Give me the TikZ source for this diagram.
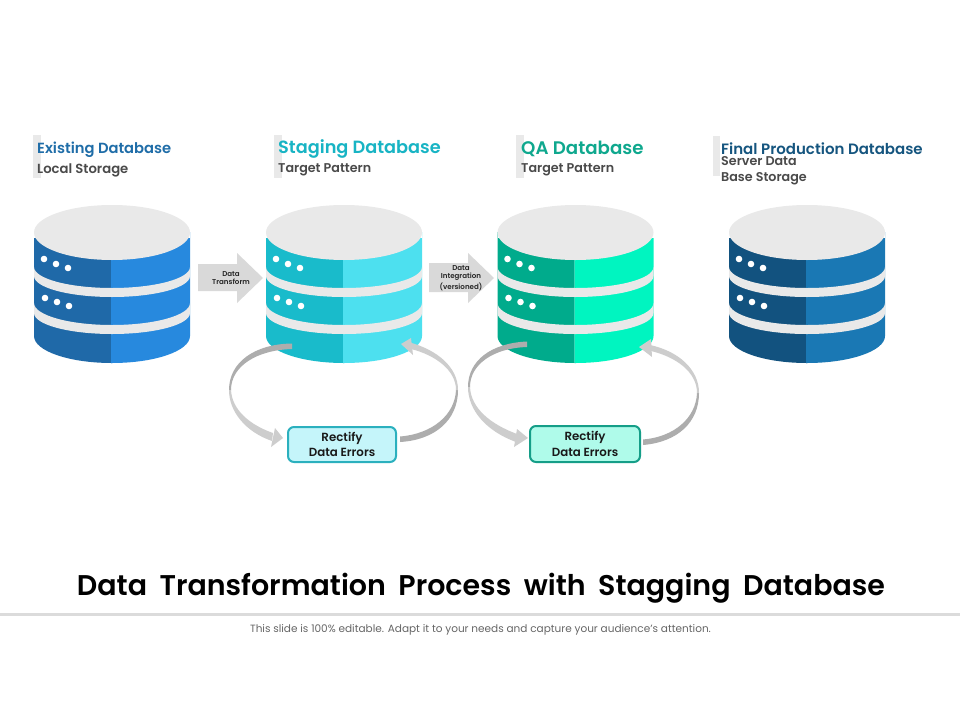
\documentclass[tikz,border=0pt]{standalone}
\usepackage{fontspec}
\setmainfont{Poppins}[BoldFont={Poppins SemiBold}]
\newcommand{\fs}[1]{\fontsize{#1}{#1}\selectfont}
\definecolor{bandgray}{HTML}{E9E9E9}
\definecolor{arrowgray}{HTML}{D9D9D9}
\definecolor{arcdark}{HTML}{ADADAD}
\definecolor{arclight}{HTML}{CDCDCD}
\definecolor{inka}{HTML}{1F69A8}\definecolor{inkb}{HTML}{2789DE}
\definecolor{inkc}{HTML}{19BBCB}\definecolor{inkd}{HTML}{4DE0EF}
\definecolor{inke}{HTML}{00AB8C}\definecolor{inkf}{HTML}{00F5C0}
\definecolor{inkg}{HTML}{12527F}\definecolor{inkh}{HTML}{1A78B4}
\definecolor{texta}{HTML}{1F6DA8}\definecolor{textb}{HTML}{18B4C4}
\definecolor{textc}{HTML}{0FA88E}\definecolor{textd}{HTML}{15557F}
\definecolor{subtext}{HTML}{4A4A4A}
\definecolor{boxa}{HTML}{C5F5FA}\definecolor{boxaline}{HTML}{2BB0BE}
\definecolor{boxb}{HTML}{AFFBEA}\definecolor{boxbline}{HTML}{159E88}
\tikzset{
  headbar/.style={fill=bandgray,draw=none},
  headtitle/.style={anchor=west,inner sep=0pt,font=\fs{14.7}\bfseries},
  headsub/.style={anchor=west,inner sep=0pt,font=\fs{12.7}\bfseries,text=subtext},
  flowtext/.style={align=center,inner sep=0pt,font=\fs{7.1}\bfseries,text=black!85},
  errbox/.style={rounded corners=6pt,line width=2pt,align=center,inner sep=0pt,font=\fs{11.8}\bfseries,text=black!90},
  dot/.style={fill=white,draw=none},
}
\newcommand{\dbcyl}[3]{%
  \fill[#2] ({#1-78},232) -- ({#1-78},336) arc[start angle=180,end angle=270,x radius=78pt,y radius=27pt] -- ({#1-1},363) -- ({#1-1},232) -- cycle;
  \fill[#3] ({#1+78},232) -- ({#1+78},336) arc[start angle=360,end angle=270,x radius=78pt,y radius=27pt] -- ({#1-1},363) -- ({#1-1},232) -- cycle;
  \fill[bandgray] ({#1-78},267) arc[start angle=180,end angle=360,x radius=78pt,y radius=21pt] -- ({#1+78},276) arc[start angle=360,end angle=180,x radius=78pt,y radius=21pt] -- cycle;
  \fill[bandgray] ({#1-78},303) arc[start angle=180,end angle=360,x radius=78pt,y radius=22pt] -- ({#1+78},313) arc[start angle=360,end angle=180,x radius=78pt,y radius=21pt] -- cycle;
  \fill[white] ({#1-78},225) rectangle ({#1+78},238);
  \fill[bandgray] (#1,232.5) ellipse[x radius=78pt,y radius=27.5pt];
  \fill[dot] ({#1-68},259) circle[radius=3.3pt] ({#1-56},264) circle[radius=3.3pt] ({#1-44},268) circle[radius=3.3pt];
  \fill[dot] ({#1-67},298) circle[radius=3.3pt] ({#1-55},302) circle[radius=3.3pt] ({#1-43},306) circle[radius=3.3pt];
}
\begin{document}
\begin{tikzpicture}[x=1pt,y=-1pt]
\useasboundingbox (0,0) rectangle (960,720);
\fill[white] (0,0) rectangle (960,720);
% header bars
\fill[headbar] (33,135) rectangle (41,178);
\fill[headbar] (274,135) rectangle (282,178);
\fill[headbar] (516,135) rectangle (524,178);
\fill[headbar] (713,136) rectangle (720,176);
% header texts
\node[headtitle,text=texta] (t1) at (37,149.5) {Existing Database};
\node[headsub,font=\fs{13.2}\bfseries] (s1) at (37,170) {Local Storage};
\node[headtitle,text=textb,font=\fs{17.7}\bfseries] (t2) at (278,149) {Staging Database};
\node[headsub] (s2) at (278,170) {Target Pattern};
\node[headtitle,text=textc,font=\fs{18.2}\bfseries] (t3) at (521,148.5) {QA Database};
\node[headsub] (s3) at (521,170) {Target Pattern};
\node[headtitle,text=textd,font=\fs{15}\bfseries] (t4) at (721,149) {Final Production Database};
\node[headsub] (s4) at (721,161) {Server Data};
\node[headsub] (s5) at (721,179) {Base Storage};
% cylinders
\dbcyl{112}{inka}{inkb}
\dbcyl{344}{inkc}{inkd}
\dbcyl{575.5}{inke}{inkf}
\dbcyl{807}{inkg}{inkh}
% block arrows
\fill[arrowgray] (198,264) -- (237,264) -- (237,253) -- (263,278) -- (237,303) -- (237,291) -- (198,291) -- cycle;
\node[flowtext] (a1) at (231,278) {Data\\[1pt]Transform};
\fill[arrowgray] (429,263) -- (468,263) -- (468,253) -- (494,278) -- (468,303) -- (468,292) -- (429,292) -- cycle;
\node[flowtext] (a2) at (461,278) {Data\\[1pt]Integration\\[1pt](versioned)};
% boxes
\node[errbox,fill=boxa,draw=boxaline,minimum width=108pt,minimum height=35pt] (b1) at (342,444.5) {Rectify\\[4pt]Data Errors};
\node[errbox,fill=boxb,draw=boxbline,minimum width=110pt,minimum height=36pt] (b2) at (585,444) {Rectify\\[4pt]Data Errors};
% left loop 1
\fill[arcdark] (292,343.5) .. controls (255,344) and (229,362) .. (229,390) -- (231,390) .. controls (231,366) and (257,350) .. (292,349) -- cycle;
\fill[arclight] (229,390) .. controls (229,412) and (246,432) .. (272,441) -- (273,433) .. controls (250,425) and (232,410) .. (231,390) -- cycle;
\fill[arclight] (283,438) -- (275,428) -- (271,447) -- cycle;
% right loop 1
\fill[arcdark] (400,442) .. controls (435,440) and (458,420) .. (458,390) -- (456,390) .. controls (455,415) and (432,434) .. (400,436.5) -- cycle;
\fill[arclight] (458,390) .. controls (458,367) and (437,350) .. (410,342.5) -- (411,349) .. controls (435,355) and (456,370) .. (456,390) -- cycle;
\fill[arclight] (401,344) -- (411,338) -- (413,355) -- cycle;
% left loop 2
\fill[arcdark] (527,341.5) .. controls (492,343) and (468,360) .. (468,387) -- (470,387) .. controls (470,364) and (494,348) .. (527,347) -- cycle;
\fill[arclight] (468,387) .. controls (468,410) and (486,431) .. (516,442) -- (517,434) .. controls (490,424) and (471,408) .. (470,387) -- cycle;
\fill[arclight] (528,438) -- (517,429) -- (514,447) -- cycle;
% right loop 2
\fill[arcdark] (643,445) .. controls (678,442) and (699,422) .. (699,393) -- (697,393) .. controls (696,418) and (674,437) .. (643,439.5) -- cycle;
\fill[arclight] (699,393) .. controls (699,369) and (678,351) .. (650,345) -- (651,351) .. controls (676,357) and (697,372) .. (697,393) -- cycle;
\fill[arclight] (639,347) -- (651,339) -- (652,357) -- cycle;
% footer
\node[inner sep=0pt,font=\fs{28.5}\bfseries,text=black] (title) at (481,588) {\spaceskip=12.5pt Data Transformation Process with Stagging Database};
\fill[black!14] (0,613) rectangle (960,615.5);
\node[inner sep=0pt,font=\fs{10.5},text=black!60] (foot) at (480.5,630) {This slide is 100\% editable. Adapt it to your needs and capture your audience's attention.};
\end{tikzpicture}
\end{document}
